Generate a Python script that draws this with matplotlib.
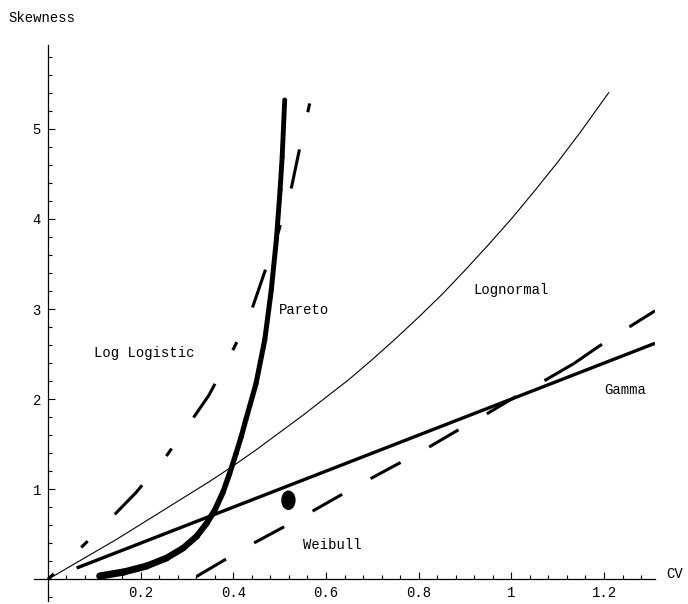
import numpy as np
import matplotlib
matplotlib.use("Agg")
import matplotlib.pyplot as plt
from matplotlib.patches import Ellipse
from matplotlib.collections import LineCollection
from matplotlib.ticker import FixedLocator, FixedFormatter

plt.rcParams['font.family'] = ['Liberation Mono', 'DejaVu Sans Mono']
plt.rcParams['lines.scale_dashes'] = False

# --- values: (CV, skewness) ---
lognormal_cv = [0.0, 0.05, 0.1, 0.15, 0.2, 0.25, 0.3, 0.35, 0.4, 0.45, 0.5, 0.55, 0.6,
                0.65, 0.7, 0.75, 0.8, 0.85, 0.9, 0.95, 1.0, 1.05, 1.1, 1.15, 1.21]
lognormal_sk = [0.0, 0.15, 0.30, 0.45, 0.61, 0.77, 0.93, 1.09, 1.26, 1.44, 1.63, 1.82, 2.02,
                2.22, 2.44, 2.67, 2.91, 3.16, 3.43, 3.71, 4.0, 4.31, 4.63, 4.97, 5.40]

gamma_cv = [0.062, 1.31]
gamma_sk = [0.126, 2.62]

weibull_cv = [0.321, 0.386, 0.447, 0.512, 0.572, 0.637, 0.697, 0.762, 0.823, 0.886,
              0.948, 1.01, 1.073, 1.135, 1.187, 1.248, 1.31]
weibull_sk = [0.033, 0.23, 0.41, 0.59, 0.76, 0.95, 1.12, 1.30, 1.47, 1.66,
              1.84, 2.03, 2.21, 2.395, 2.58, 2.78, 2.98]
weibull_break = 13  # the dashed curve is drawn in two pieces

loglogistic_cv = [0.0, 0.067, 0.078, 0.134, 0.19, 0.24, 0.253, 0.30, 0.347, 0.392,
                  0.435, 0.465, 0.497, 0.526, 0.546, 0.571]
loglogistic_sk = [0.0, 0.33, 0.385, 0.667, 0.963, 1.27, 1.35, 1.69, 2.04, 2.47,
                  2.92, 3.37, 3.85, 4.36, 4.85, 5.42]

pareto_cv = [0.112, 0.163, 0.213, 0.256, 0.292, 0.321, 0.342, 0.360, 0.378, 0.392,
             0.406, 0.417, 0.427, 0.449, 0.468, 0.482, 0.493, 0.501, 0.5055, 0.511]
pareto_sk = [0.037, 0.081, 0.148, 0.237, 0.348, 0.478, 0.619, 0.767, 0.970, 1.174,
             1.397, 1.581, 1.77, 2.17, 2.66, 3.21, 3.77, 4.32, 4.69, 5.32]

point_cv, point_sk = 0.519, 0.878

x_ticks = [0.2, 0.4, 0.6, 0.8, 1.0, 1.2]
x_tick_labels = ['0.2', '0.4', '0.6', '0.8', '1', '1.2']
y_ticks = [1, 2, 3, 4, 5]

W, H = 688, 604
fig = plt.figure(figsize=(W / 100, H / 100), dpi=100)
# plot box in pixels
left_px, right_px, top_px, bottom_px = 34, 655, 45, 601
ax = fig.add_axes([left_px / W, 1 - bottom_px / H,
                   (right_px - left_px) / W, (bottom_px - top_px) / H])
ax.set_xlim(-0.03, 1.31)
ax.set_ylim(-0.24, 5.93)

for s in ['top', 'right']:
    ax.spines[s].set_visible(False)
ax.spines['left'].set_position(('data', 0))
ax.spines['bottom'].set_position(('data', 0))
for s in ['left', 'bottom']:
    ax.spines[s].set_linewidth(0.9)

ax.xaxis.set_major_locator(FixedLocator(x_ticks))
ax.xaxis.set_major_formatter(FixedFormatter(x_tick_labels))
ax.xaxis.set_minor_locator(FixedLocator(np.arange(0.04, 1.30, 0.04)))
ax.yaxis.set_major_locator(FixedLocator(y_ticks))
ax.yaxis.set_minor_locator(FixedLocator(np.arange(-0.2, 5.9, 0.2)))
ax.tick_params(which='both', direction='in', width=0.8, labelsize=10, pad=5)
ax.tick_params(which='major', length=5)
ax.tick_params(which='minor', length=3)

# curves
ax.plot(lognormal_cv, lognormal_sk, color='black', lw=0.8)
ax.plot(gamma_cv, gamma_sk, color='black', lw=2.4, solid_capstyle='butt')
for a, b in [(0, weibull_break + 1), (weibull_break, len(weibull_cv))]:
    ax.plot(weibull_cv[a:b], weibull_sk[a:b], color='black', lw=2.2,
            linestyle=(0, (24.5, 23.4)), dash_capstyle='butt')
ax.plot(loglogistic_cv, loglogistic_sk, color='black', lw=2.2,
        linestyle=(23, (28.8, 27.4, 6.5, 27.4)), dash_capstyle='butt')

# Pareto: heavy line, a little heavier near its start
pts = np.column_stack([pareto_cv, pareto_sk])
segs = np.stack([pts[:-1], pts[1:]], axis=1)
widths = np.interp(np.arange(len(segs)), [0, 9, len(segs) - 1], [5.2, 3.8, 3.5])
ax.add_collection(LineCollection(segs, linewidths=widths, colors='black',
                                 capstyle='round', joinstyle='round'))

ax.add_patch(Ellipse((point_cv, point_sk), width=13 / 463.3, height=18 / 90,
                     color='black'))

# labels
ax.text(0.207, 2.51, 'Log Logistic', ha='center', va='center', fontsize=10)
ax.text(0.553, 2.99, 'Pareto', ha='center', va='center', fontsize=10)
ax.text(1.0, 3.21, 'Lognormal', ha='center', va='center', fontsize=10)
ax.text(1.245, 2.10, 'Gamma', ha='center', va='center', fontsize=10)
ax.text(0.613, 0.378, 'Weibull', ha='center', va='center', fontsize=10)
ax.text(1.353, 0.056, 'CV', ha='center', va='center', fontsize=10, clip_on=False)
fig.text(8 / W, 1 - 18 / H, 'Skewness', ha='left', va='center', fontsize=10)

fig.savefig('out.png', dpi=100)
